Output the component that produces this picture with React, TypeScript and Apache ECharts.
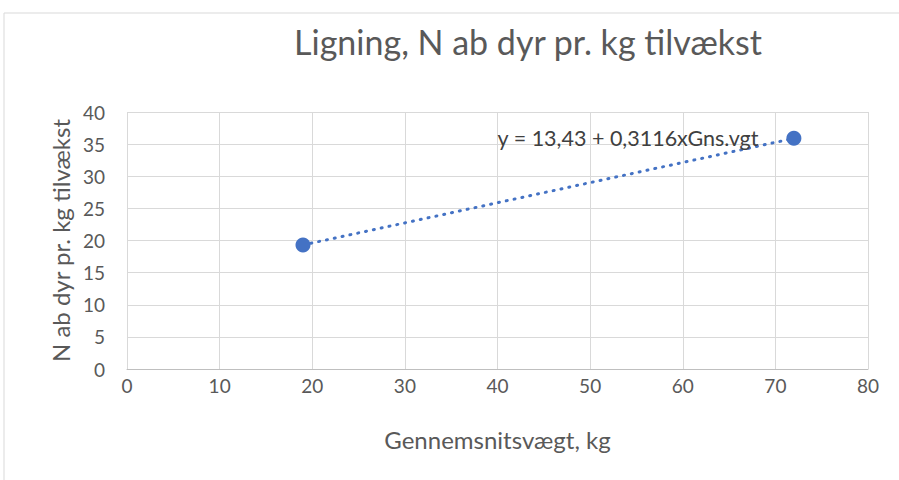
import React, { useEffect, useRef } from "react";
import * as echarts from "echarts";

const title = "Ligning, N ab dyr pr. kg tilvækst";
const xName = "Gennemsnitsvægt, kg";
const yName = "N ab dyr pr. kg tilvækst";
const gnsVaegt = [19, 72];
const nAb = [19.3, 35.9];
const equation = "y = 13,43 + 0,3116xGns.vgt";

const FONT = "Lato, 'Open Sans', sans-serif";

export default function App() {
  const ref = useRef<HTMLDivElement>(null);
  useEffect(() => {
    if (!ref.current) return;
    const chart = echarts.init(ref.current, undefined, { renderer: "svg" });
    const pts = gnsVaegt.map((x, i) => [x, nAb[i]]);
    chart.setOption({
      animation: false,
      backgroundColor: "#ffffff",
      textStyle: { fontFamily: FONT },
      title: {
        text: title,
        left: 523,
        textAlign: "center",
        top: 19,
        textStyle: { fontSize: 34, fontWeight: "normal", color: "#595959", fontFamily: FONT },
      },
      graphic: [
        {
          type: "rect",
          shape: { x: 4, y: 13, width: 920, height: 520 },
          style: { fill: "none", stroke: "#d9d9d9", lineWidth: 1 },
          silent: true,
        },
      ],
      grid: { left: 127, right: 31, top: 112, bottom: 111 },
      xAxis: {
        type: "value",
        min: 0,
        max: 80,
        interval: 10,
        name: xName,
        nameLocation: "middle",
        nameGap: 58,
        nameTextStyle: { fontSize: 24, color: "#595959", fontFamily: FONT },
        axisLine: { show: true, lineStyle: { color: "#bfbfbf", width: 1 } },
        axisTick: { show: false },
        axisLabel: { fontSize: 19, color: "#595959", margin: 7, fontFamily: FONT },
        splitLine: { show: true, lineStyle: { color: "#d9d9d9", width: 1 } },
      },
      yAxis: {
        type: "value",
        min: 0,
        max: 40,
        interval: 5,
        name: yName,
        nameLocation: "middle",
        nameGap: 53,
        nameRotate: 90,
        nameTextStyle: { fontSize: 24, color: "#595959", fontFamily: FONT },
        axisLine: { show: false },
        axisTick: { show: false },
        axisLabel: { fontSize: 19, color: "#595959", margin: 22, fontFamily: FONT },
        splitLine: { show: true, lineStyle: { color: "#d9d9d9", width: 1 } },
      },
      series: [
        {
          type: "line",
          data: pts,
          symbol: "none",
          lineStyle: { color: "#4472C4", width: 3, type: [1, 7], cap: "round" },
          z: 2,
        },
        {
          type: "scatter",
          data: pts,
          symbolSize: 15,
          itemStyle: { color: "#4472C4", opacity: 1 },
          z: 3,
          label: {
            show: true,
            position: "left",
            distance: 28,
            formatter: (p: any) => (p.dataIndex === 1 ? equation : ""),
            fontSize: 21.5,
            color: "#404040",
            fontFamily: FONT,
          },
        },
      ],
    });
    return () => chart.dispose();
  }, []);
  return (
    <div
      ref={ref}
      style={{ position: "fixed", left: 0, top: 0, width: 899, height: 480 }}
    />
  );
}
